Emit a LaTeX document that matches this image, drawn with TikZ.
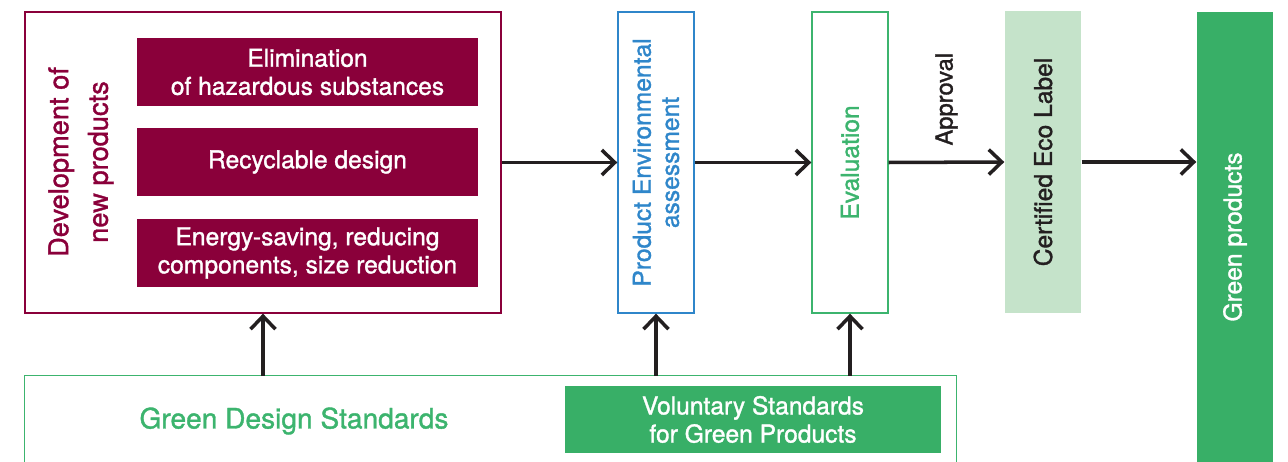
\documentclass[tikz,border=0pt]{standalone}
\usepackage{fontspec}
\setmainfont{TeX Gyre Heros}[BoldFont=TeX Gyre Heros, BoldFeatures={FakeBold=1.3}]
\usetikzlibrary{arrows.meta}
\definecolor{wine}{RGB}{138,0,58}
\definecolor{skyline}{RGB}{47,134,202}
\definecolor{leafline}{RGB}{60,180,110}
\definecolor{leaf}{RGB}{56,175,103}
\definecolor{mint}{RGB}{197,227,202}
\definecolor{ink}{RGB}{35,31,32}
\begin{document}
\begin{tikzpicture}[
        x=0.02cm, y=-0.02cm,
        every node/.style={
            font=\bfseries
        },
        devFrame/.style={
            draw=wine,
            line width=0.8pt,
            minimum width=9.52cm,
            minimum height=6.02cm,
            inner sep=0pt
        },
        measureBox/.style={
            fill=wine,
            text=white,
            minimum width=6.82cm,
            minimum height=1.36cm,
            inner sep=0pt,
            align=center,
            font=\bfseries\fontsize{14}{16}\selectfont
        },
        stageBox/.style={
            line width=0.8pt,
            minimum width=1.52cm,
            minimum height=6.02cm,
            inner sep=0pt
        },
        sideText/.style={
            rotate=90,
            align=center,
            inner sep=0pt,
            font=\bfseries\fontsize{14}{16}\selectfont
        },
        flowArrow/.style={
            draw=ink,
            line width=2pt,
            -{Straight Barb[length=0.26cm,width=0.5cm]}
        }
    ]

        \useasboundingbox (0,0) rectangle (1288,462);

        \node[devFrame] (devbox) at (263,162.5) {};
        \node[sideText, text=wine, font=\bfseries\fontsize{15.5}{22.5}\selectfont] (devlabel) at (81,162) {Development of\\new products};

        \node[measureBox] (hazard) at (307.5,72) {Elimination\\of hazardous substances};
        \node[measureBox] (recycle) at (307.5,162) {Recyclable design};
        \node[measureBox] (energy) at (307.5,253) {Energy-saving, reducing\\components, size reduction};

        \node[stageBox, draw=skyline] (peabox) at (656,162.5) {};
        \node[sideText, text=skyline] (pealabel) at (peabox.center) {Product Environmental\\assessment};

        \node[stageBox, draw=leafline] (evalbox) at (850,162.5) {};
        \node[sideText, text=leafline] (evallabel) at (evalbox.center) {Evaluation};

        \node[stageBox, fill=mint, minimum height=6.04cm] (ecobox) at (1043,162) {};
        \node[sideText, text=ink] (ecolabel) at (ecobox.center) {Certified Eco Label};

        \node[stageBox, fill=leaf, minimum height=9cm] (greenbox) at (1235,237) {};
        \node[sideText, text=white] (greenlabel) at (greenbox.center) {Green products};

        \node[minimum width=18.62cm, minimum height=1.72cm, inner sep=0pt] (stdbox) at (490.5,419) {};
        \draw[leafline, line width=0.8pt] (stdbox.south west) -- (stdbox.north west) -- (stdbox.north east) -- (stdbox.south east);
        \node[text=leafline, font=\bfseries\fontsize{16}{18}\selectfont] (designlabel) at (294,421) {Green Design Standards};
        \node[measureBox, fill=leaf, minimum width=7.52cm, minimum height=1.34cm] (volbox) at (753,419.5) {Voluntary Standards\\for Green Products};

        \draw[flowArrow] (devbox.east) -- (peabox.west);
        \draw[flowArrow] (peabox.east) -- (evalbox.west);
        \draw[flowArrow] (evalbox.east) -- node[sideText, anchor=west, inner sep=0.3cm, font=\bfseries\fontsize{13.5}{16}\selectfont, text=ink] (approval) {Approval} (ecobox.west);
        \draw[flowArrow] (ecobox.east) -- (ecobox.east -| greenbox.west);

        \foreach \target in {devbox,peabox,evalbox} {
            \draw[flowArrow] (stdbox.north -| \target.south) -- (\target.south);
        }

    \end{tikzpicture}
\end{document}
